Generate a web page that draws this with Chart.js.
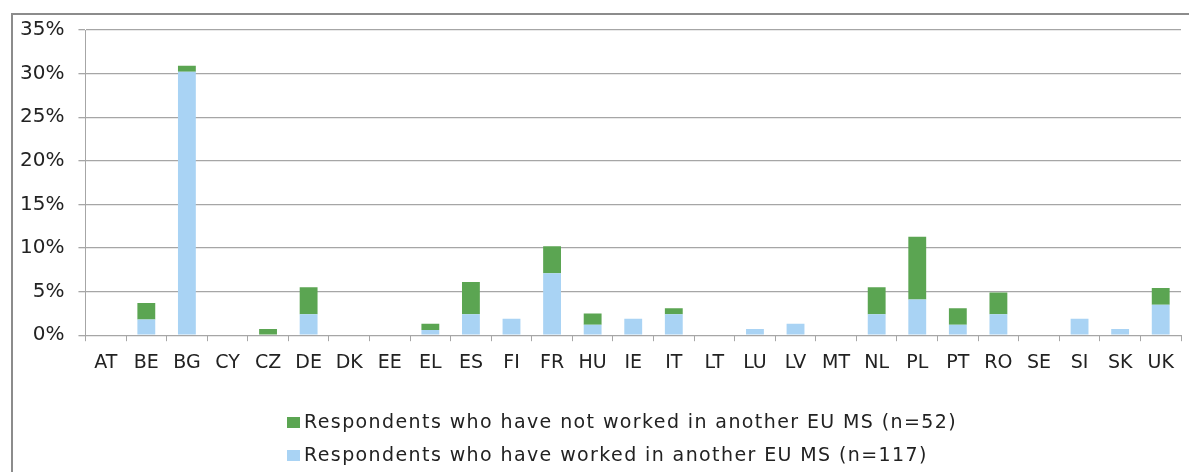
<!DOCTYPE html>
<html>
<head>
<meta charset="utf-8">
<script src="https://cdn.jsdelivr.net/npm/chart.js@4.4.1/dist/chart.umd.min.js"></script>
<style>
  html, body { margin: 0; padding: 0; background: #fff; }
  #wrap { position: relative; width: 1189px; height: 472px; overflow: hidden; }
  #frame { position: absolute; left: 11px; top: 13px; width: 1200px; height: 480px; border: 2px solid #8c8c8c; box-sizing: border-box; pointer-events: none; }
  #legend { position: absolute; left: 287px; top: 408px; font-family: "DejaVu Sans", Verdana, sans-serif; font-size: 19px; letter-spacing: 1.4px; color: #222; }
  #legend div { height: 33px; line-height: 26px; white-space: nowrap; }
  #legend span.box { display: inline-block; width: 13px; height: 11px; margin-right: 4px; vertical-align: 0px; }
</style>
</head>
<body>
<div id="wrap">
  <canvas id="chart" width="1189" height="472"></canvas>
  <div id="frame"></div>
  <div id="legend"></div>
</div>
<script>
// country codes on the x axis
const countries = ['AT', 'BE', 'BG', 'CY', 'CZ', 'DE', 'DK', 'EE', 'EL', 'ES', 'FI', 'FR', 'HU', 'IE',
                   'IT', 'LT', 'LU', 'LV', 'MT', 'NL', 'PL', 'PT', 'RO', 'SE', 'SI', 'SK', 'UK'];

// share of respondents (%)
const workedAbroad = [0, 1.8, 30.2, 0, 0, 2.4, 0, 0, 0.6, 2.4, 1.9, 7.1, 1.2, 1.9,
                      2.4, 0, 0.7, 1.3, 0, 2.4, 4.1, 1.2, 2.4, 0, 1.9, 0.7, 3.5];
const notWorkedAbroad = [0, 1.9, 0.7, 0, 0.7, 3.1, 0, 0, 0.7, 3.7, 0, 3.1, 1.3, 0,
                         0.7, 0, 0, 0, 0, 3.1, 7.2, 1.9, 2.5, 0, 0, 0, 1.9];

const yTicks = [0, 5, 10, 15, 20, 25, 30, 35];

const GREEN = '#5ba552';
const BLUE = '#a9d3f4';
const GRID = '#a6a6a6';
const FONT = '"DejaVu Sans", Verdana, sans-serif';

const ctx = document.getElementById('chart').getContext('2d');
const chart = new Chart(ctx, {
    type: 'bar',
    data: {
        labels: countries,
        datasets: [
            {
                label: 'Respondents who have worked in another EU MS (n=117)',
                data: workedAbroad,
                backgroundColor: BLUE,
                barPercentage: 0.44,
                categoryPercentage: 1
            },
            {
                label: 'Respondents who have not worked in another EU MS (n=52)',
                data: notWorkedAbroad,
                backgroundColor: GREEN,
                barPercentage: 0.44,
                categoryPercentage: 1
            }
        ]
    },
    options: {
        responsive: false,
        animation: false,
        layout: {
            padding: { left: 6, right: 8, top: 30, bottom: 88 }
        },
        plugins: {
            legend: { display: false },
            tooltip: { enabled: false }
        },
        scales: {
            x: {
                stacked: true,
                grid: {
                    display: true,
                    drawOnChartArea: false,
                    drawTicks: true,
                    tickLength: 6,
                    color: GRID
                },
                border: { color: GRID },
                ticks: {
                    color: '#222',
                    font: { family: FONT, size: 19 },
                    padding: 10,
                    maxRotation: 0,
                    autoSkip: false
                }
            },
            y: {
                stacked: true,
                min: 0,
                max: 35,
                afterBuildTicks: axis => {
                    axis.ticks = yTicks.map(v => ({ value: v }));
                },
                grid: {
                    color: GRID,
                    lineWidth: 1.3,
                    tickLength: 7
                },
                border: { color: GRID },
                ticks: {
                    color: '#222',
                    font: { family: FONT, size: 20 },
                    padding: 14,
                    callback: v => v + '%'
                }
            }
        }
    }
});

// legend: not-worked first, like the original
const legend = document.getElementById('legend');
chart.data.datasets.slice().reverse().forEach(ds => {
    const row = document.createElement('div');
    const box = document.createElement('span');
    box.className = 'box';
    box.style.background = ds.backgroundColor;
    row.appendChild(box);
    row.appendChild(document.createTextNode(ds.label));
    legend.appendChild(row);
});
</script>
</body>
</html>
